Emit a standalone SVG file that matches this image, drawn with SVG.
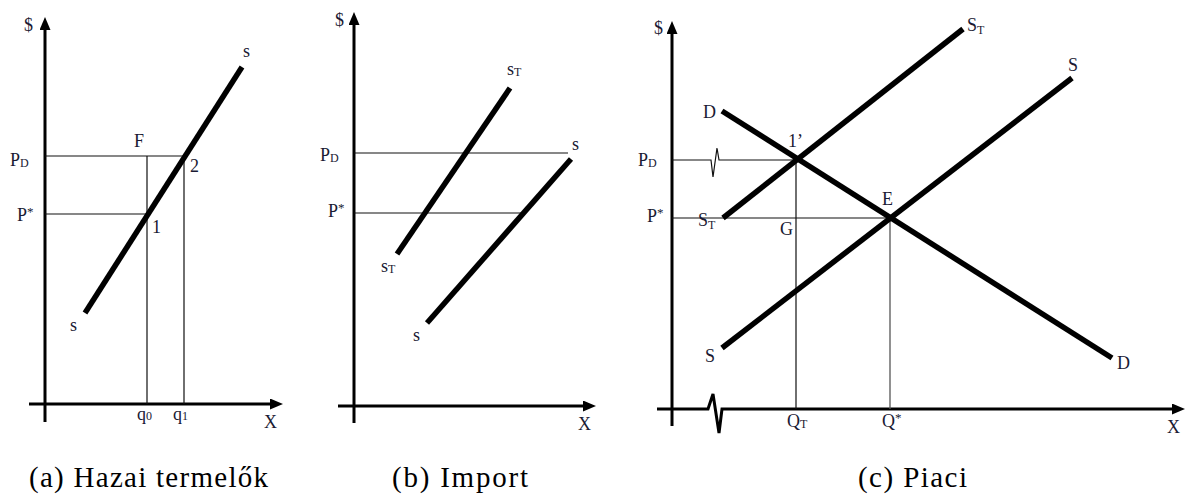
<svg xmlns="http://www.w3.org/2000/svg" width="1186" height="495" viewBox="0 0 1186 495">
<defs>
<marker id="ah" markerWidth="13" markerHeight="11" refX="0" refY="5.5" orient="auto" markerUnits="userSpaceOnUse"><path d="M0,0 L13,5.5 L0,11 z" fill="#000"/></marker>
<style>
.axis{stroke:#000;stroke-width:3;fill:none}
.curve{stroke:#000;stroke-width:5.5;fill:none}
.thin{stroke:#111;stroke-width:1.2;fill:none}
.lbl{font-family:'Liberation Serif','DejaVu Serif',serif;font-size:18px;fill:#1a1a33}
.sub{font-size:12px}
.cap{font-family:'Liberation Serif','DejaVu Serif',serif;font-size:29px;fill:#000}
</style>
</defs>
<rect width="1186" height="495" fill="#fff"/>
<g id="panel-a">
<line class="axis" x1="45" y1="422" x2="45" y2="30" marker-end="url(#ah)"/>
<line class="axis" x1="29" y1="404" x2="270" y2="404" marker-end="url(#ah)"/>
<path class="thin" d="M45,156 H184 V404 M147,156 V404 M45,214 H147"/>
<line class="curve" x1="85" y1="313" x2="242" y2="67"/>
<text class="lbl" x="24" y="31">$</text>
<text class="lbl" x="243" y="57" font-size="15">s</text>
<text class="lbl" x="134" y="147">F</text>
<text class="lbl" x="10" y="166">P<tspan class="sub" dy="1">D</tspan></text>
<text class="lbl" x="190" y="172">2</text>
<text class="lbl" x="17" y="221">P<tspan font-size="13" dy="-5">*</tspan></text>
<text class="lbl" x="152" y="233">1</text>
<text class="lbl" x="70" y="331" font-size="15">s</text>
<text class="lbl" x="137" y="420" font-size="15">q<tspan class="sub">0</tspan></text>
<text class="lbl" x="173" y="420" font-size="15">q<tspan class="sub">1</tspan></text>
<text class="lbl" x="264" y="428">X</text>
<text class="cap" x="29" y="487" textLength="239" lengthAdjust="spacing">(a) Hazai termelők</text>
</g>
<g id="panel-b">
<line class="axis" x1="354" y1="423" x2="354" y2="25" marker-end="url(#ah)"/>
<line class="axis" x1="338" y1="406" x2="583" y2="406" marker-end="url(#ah)"/>
<path class="thin" d="M354,153 H568 M354,213 H522"/>
<line class="curve" x1="397" y1="254" x2="510" y2="88"/>
<line class="curve" x1="427" y1="323" x2="571" y2="159"/>
<text class="lbl" x="335" y="26">$</text>
<text class="lbl" x="507" y="75" font-size="15">s<tspan class="sub" dy="1">T</tspan></text>
<text class="lbl" x="572" y="150" font-size="15">s</text>
<text class="lbl" x="320" y="161">P<tspan class="sub" dy="1">D</tspan></text>
<text class="lbl" x="328" y="217">P<tspan font-size="13" dy="-5">*</tspan></text>
<text class="lbl" x="381" y="272" font-size="15">s<tspan class="sub" dy="1">T</tspan></text>
<text class="lbl" x="413" y="341" font-size="15">s</text>
<text class="lbl" x="578" y="430">X</text>
<text class="cap" x="392" y="487" textLength="136" lengthAdjust="spacing">(b) Import</text>
</g>
<g id="panel-c">
<line class="axis" x1="672" y1="426" x2="672" y2="34" marker-end="url(#ah)"/>
<polyline class="axis" points="657,409 708,409 713,394 719,433 722,409 1172,409" marker-end="url(#ah)"/>
<polyline class="thin" points="672,160 711,160 713,177 717,148 719,160 796,160 796,409"/>
<line class="thin" x1="672" y1="218" x2="890" y2="218"/>
<line x1="890" y1="218" x2="890" y2="409" stroke="#555" stroke-width="1.3"/>
<line class="curve" x1="722" y1="111" x2="1112" y2="358"/>
<line class="curve" x1="723" y1="218" x2="963" y2="29"/>
<line class="curve" x1="722" y1="348" x2="1072" y2="78"/>
<text class="lbl" x="654" y="34">$</text>
<text class="lbl" x="703" y="118">D</text>
<text class="lbl" x="788" y="147">1’</text>
<text class="lbl" x="638" y="166">P<tspan class="sub" dy="1">D</tspan></text>
<text class="lbl" x="882" y="205">E</text>
<text class="lbl" x="647" y="222">P<tspan font-size="13" dy="-5">*</tspan></text>
<text class="lbl" x="698" y="226">S<tspan class="sub" dy="3">T</tspan></text>
<text class="lbl" x="780" y="235">G</text>
<text class="lbl" x="705" y="362">S</text>
<text class="lbl" x="787" y="427">Q<tspan class="sub" dy="1">T</tspan></text>
<text class="lbl" x="882" y="427">Q<tspan font-size="13" dy="-5">*</tspan></text>
<text class="lbl" x="967" y="31">S<tspan class="sub" dy="3">T</tspan></text>
<text class="lbl" x="1068" y="71">S</text>
<text class="lbl" x="1117" y="369">D</text>
<text class="lbl" x="1167" y="433">X</text>
<text class="cap" x="858" y="487" textLength="109" lengthAdjust="spacing">(c) Piaci</text>
</g>
</svg>
